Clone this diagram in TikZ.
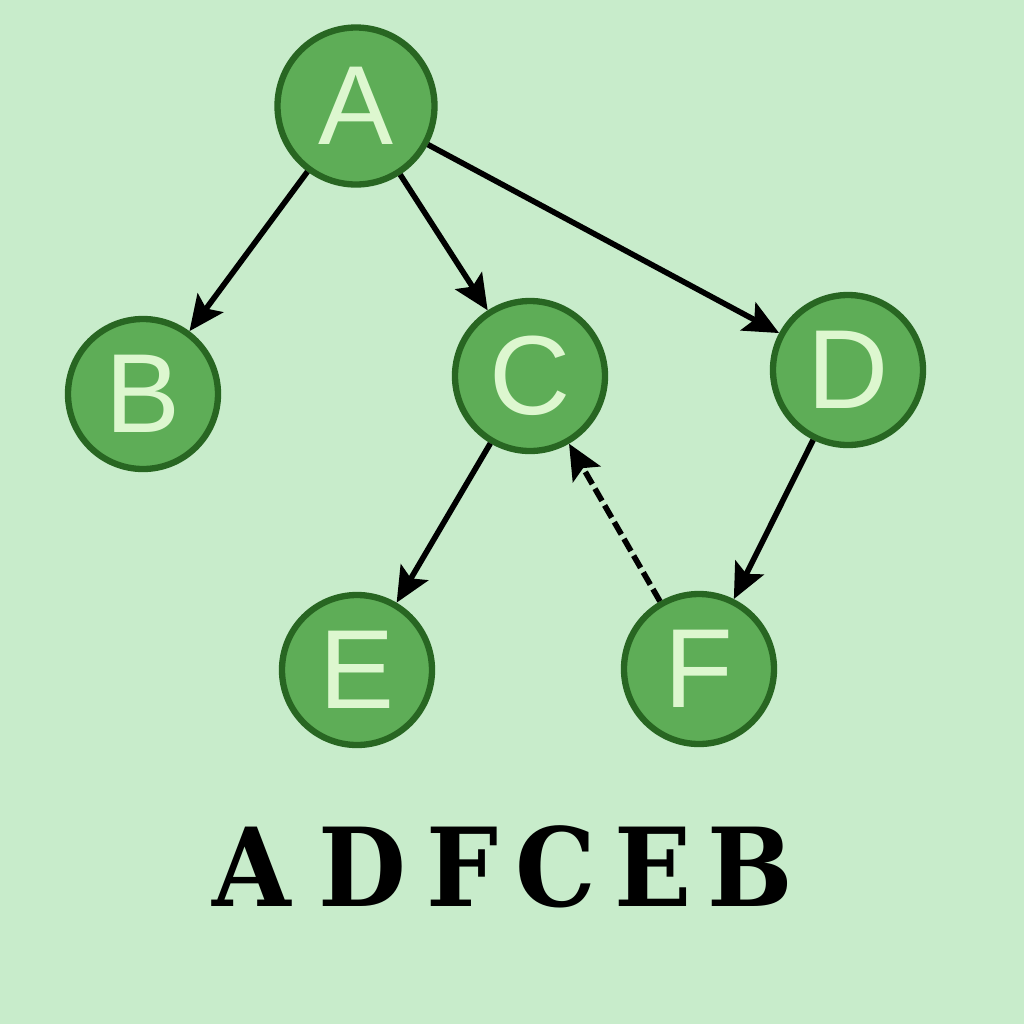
\documentclass[tikz,border=0pt]{standalone}
\usepackage{fontspec}
\setmainfont{DejaVu Serif}
\newfontfamily\nodefont{Liberation Sans}
\usetikzlibrary{arrows.meta}

\definecolor{bgGreen}{HTML}{C8ECCB}
\definecolor{nodeFill}{HTML}{5EAD57}
\definecolor{nodeLine}{HTML}{286622}
\definecolor{nodeText}{HTML}{DDF7CF}

\begin{document}
\begin{tikzpicture}[
    vertex/.style = {circle, draw=nodeLine, fill=nodeFill, line width=1.8pt,
                     minimum size=1.5cm, inner sep=0pt, text=nodeText,
                     font=\nodefont\fontsize{32}{32}\selectfont},
    edge/.style = {line width=1.6pt, -{Stealth[length=10pt,width=9pt,inset=2pt]}},
    back/.style = {edge, dash pattern=on 4pt off 1.5pt}
  ]

    % background
    \fill[bgGreen] (0,0) rectangle (10.24,-10.24);
    \useasboundingbox (0,0) rectangle (10.24,-10.24);

    % draw nodes
    \node[vertex, minimum size=1.57cm] (A) at (3.56,-1.06) {A};
    \node[vertex] (B) at (1.43,-3.94) {B};
    \node[vertex] (C) at (5.30,-3.76) {C};
    \node[vertex] (D) at (8.48,-3.70) {D};
    \node[vertex] (E) at (3.57,-6.70) {E};
    \node[vertex] (F) at (6.99,-6.69) {F};

    % draw edges
    \draw[edge] (A) -- (B);
    \draw[edge] (A) -- (C);
    \draw[edge] (A) -- (D);
    \draw[edge] (C) -- (E);
    \draw[edge] (D) -- (F);
    \draw[back] (F) -- (C);

    % order
    \foreach \name/\x in {A/2.52, D/3.62, F/4.62, C/5.56, E/6.53, B/7.50}
      \node[font=\bfseries\fontsize{31}{31}\selectfont, anchor=base, xscale=0.93] (order\name) at (\x,-9.06) {\name};
\end{tikzpicture}
\end{document}
